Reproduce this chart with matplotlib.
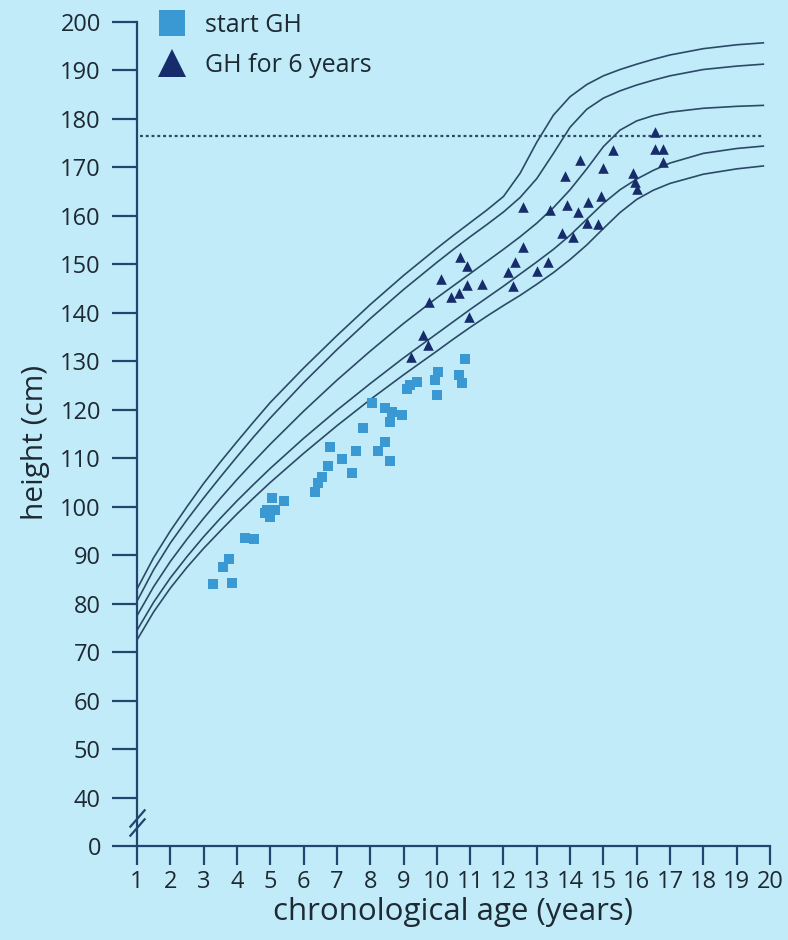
import matplotlib
matplotlib.use("Agg")
import matplotlib.pyplot as plt
from matplotlib.lines import Line2D

# ---------------- data ----------------
curve_ages = [1, 1.5, 2, 2.5, 3, 3.5, 4, 4.5, 5, 6, 7, 8, 9, 10, 10.5, 11, 11.5, 12,
              12.5, 13, 13.5, 14, 14.5, 15, 15.5, 16, 16.5, 17, 18, 19, 19.8]
curve_a = [83, 89.5, 95, 100, 104.8, 109.2, 113.4, 117.5, 121.5, 128.6, 135.3, 141.7, 147.7,
           153.3, 156.0, 158.6, 161.2, 164.0, 168.8, 175.2, 180.8, 184.6, 187.1, 188.9, 190.2,
           191.3, 192.3, 193.2, 194.5, 195.3, 195.7]
curve_b = [80.5, 87, 92.5, 97.3, 101.8, 106.1, 110.3, 114.4, 118.3, 125.6, 132.4, 138.8, 144.8,
           150.4, 153.1, 155.7, 158.2, 160.8, 163.8, 167.7, 172.9, 178.3, 182.0, 184.3, 185.8,
           187.0, 188.0, 188.9, 190.2, 190.9, 191.3]
curve_c = [77.5, 83.5, 88.7, 93.3, 97.6, 101.7, 105.6, 109.3, 112.9, 119.7, 126.1, 132.1, 137.8,
           143.1, 145.6, 148.1, 150.6, 153.1, 155.7, 158.5, 161.7, 165.4, 169.7, 174.3, 177.7,
           179.6, 180.7, 181.4, 182.2, 182.6, 182.8]
curve_d = [74.5, 80.3, 85.3, 89.7, 93.8, 97.6, 101.2, 104.6, 107.9, 114.1, 119.9, 125.4, 130.7,
           135.7, 138.2, 140.7, 143.1, 145.5, 148.0, 150.5, 153.1, 156.0, 159.3, 162.6, 165.4,
           167.6, 169.4, 170.9, 172.9, 173.9, 174.4]
curve_e = [72.5, 78.3, 83.2, 87.5, 91.4, 95.0, 98.5, 101.8, 105.0, 111.0, 116.7, 122.1, 127.2,
           132.1, 134.6, 137.0, 139.3, 141.5, 143.6, 145.9, 148.3, 151.0, 154.0, 157.4, 160.7,
           163.4, 165.3, 166.7, 168.6, 169.7, 170.3]

target_height = 176.5

start_age = [3.28, 3.85, 3.58, 3.76, 4.24, 4.51, 5.05, 5.41, 4.90, 5.14, 4.99, 4.84,
             6.43, 6.34, 6.55, 6.73, 6.79, 7.15, 7.45, 7.57, 7.78, 8.05, 8.23, 8.44,
             8.59, 8.44, 8.65, 8.59, 8.95, 9.10, 9.19, 9.40, 10.0, 9.94, 10.03, 10.66,
             10.75, 10.84]
start_height = [84.0, 84.2, 87.5, 89.3, 93.5, 93.3, 101.7, 101.1, 99.3, 99.3, 97.8, 98.6,
                104.8, 103.0, 106.1, 108.3, 112.3, 109.8, 106.9, 111.4, 116.2, 121.3, 111.4, 113.3,
                109.4, 120.3, 119.5, 117.4, 118.9, 124.2, 125.1, 125.7, 123.0, 126.1, 127.7, 127.1,
                125.5, 130.4]

gh6_age = [16.55, 16.55, 16.79, 16.79, 15.29, 14.30, 14.99, 13.85, 15.89, 15.95, 16.01,
           12.58, 13.39, 13.91, 14.24, 14.54, 14.93, 14.51, 14.84, 13.76, 14.09, 12.58,
           12.34, 12.13, 12.28, 13.00, 13.33, 10.69, 10.90, 10.12, 10.90, 11.35, 10.42,
           10.66, 9.76, 10.96, 9.58, 9.73, 9.22]
gh6_height = [177.3, 173.8, 173.8, 171.1, 173.6, 171.5, 169.9, 168.2, 168.8, 167.0, 165.5,
              161.8, 161.2, 162.2, 160.8, 162.8, 164.1, 158.5, 158.3, 156.4, 155.6, 153.6,
              150.5, 148.4, 145.5, 148.6, 150.5, 151.5, 149.6, 146.9, 145.7, 145.9, 143.2,
              144.0, 142.2, 139.1, 135.4, 133.3, 130.8]

x_ticks = list(range(1, 21))
y_ticks = [30] + list(range(40, 201, 10))
y_tick_labels = ["0"] + [str(v) for v in range(40, 201, 10)]
legend_labels = ["start GH", "GH for 6 years"]

# ---------------- style ----------------
BG = "#c1ebf9"
AXC = "#23466e"
LINEC = "#2c4a66"
SQC = "#3a98d2"
TRIC = "#172d6b"
TXT = "#1e2a33"
plt.rcParams["font.family"] = ["Open Sans", "DejaVu Sans"]

fig = plt.figure(figsize=(7.88, 9.40), dpi=100, facecolor=BG)
W, H = 788, 940
ax = fig.add_axes([137 / W, 1 - 846 / H, (770 - 137) / W, (846 - 22) / H])
ax.set_facecolor(BG)

for cv in (curve_a, curve_b, curve_c, curve_d, curve_e):
    ax.plot(curve_ages, cv, color=LINEC, lw=1.2, solid_joinstyle="round", zorder=2)

ax.hlines(target_height, 1.1, 19.8, colors=LINEC, linestyles=(0, (1.3, 1.3)), lw=1.6, zorder=2)

ax.scatter(start_age, start_height, marker="s", s=62, color=SQC, linewidths=0, zorder=3)
ax.scatter(gh6_age, gh6_height, marker="^", s=58, color=TRIC, linewidths=0, zorder=4)

ax.set_xlim(1, 20)
ax.set_ylim(30, 200)
ax.set_xticks(x_ticks)
ax.set_yticks(y_ticks)
ax.set_yticklabels(y_tick_labels)

for s in ("top", "right"):
    ax.spines[s].set_visible(False)
for s in ("left", "bottom"):
    ax.spines[s].set_color(AXC)
    ax.spines[s].set_linewidth(1.6)

ax.tick_params(axis="y", direction="out", length=18, width=1.6, color=AXC,
               labelsize=17, labelcolor=TXT, pad=8)
ax.tick_params(axis="x", direction="out", length=13.5, width=1.6, color=AXC,
               labelsize=17, labelcolor=TXT, pad=4)

ax.set_ylabel("height (cm)", fontsize=21.5, color=TXT)
ax.set_xlabel("chronological age (years)", fontsize=22.5, color=TXT)
ax.xaxis.set_label_coords(0.499, -0.062)
ax.yaxis.set_label_coords(-0.137, 0.49)

# axis break marks
brk = dict(marker=[(-1, -1.15), (1, 1.15)], markersize=13, linestyle="none",
           color=AXC, mec=AXC, mew=1.6, clip_on=False, zorder=5)
ax.plot([1, 1], [33.9, 35.8], **brk)

handles = [Line2D([], [], marker="s", color=SQC, linestyle="none", markersize=18.5, mew=0),
           Line2D([], [], marker="^", color=TRIC, linestyle="none", markersize=20, mew=0)]
fig.legend(handles, legend_labels, loc="upper left", bbox_to_anchor=(158 / W, 1 - 13 / H),
           frameon=False, fontsize=18, labelcolor=TXT, handlelength=1.08,
           handletextpad=0.8, labelspacing=0.58, borderpad=0, borderaxespad=0)

fig.savefig("out.png", dpi=100, facecolor=BG)
